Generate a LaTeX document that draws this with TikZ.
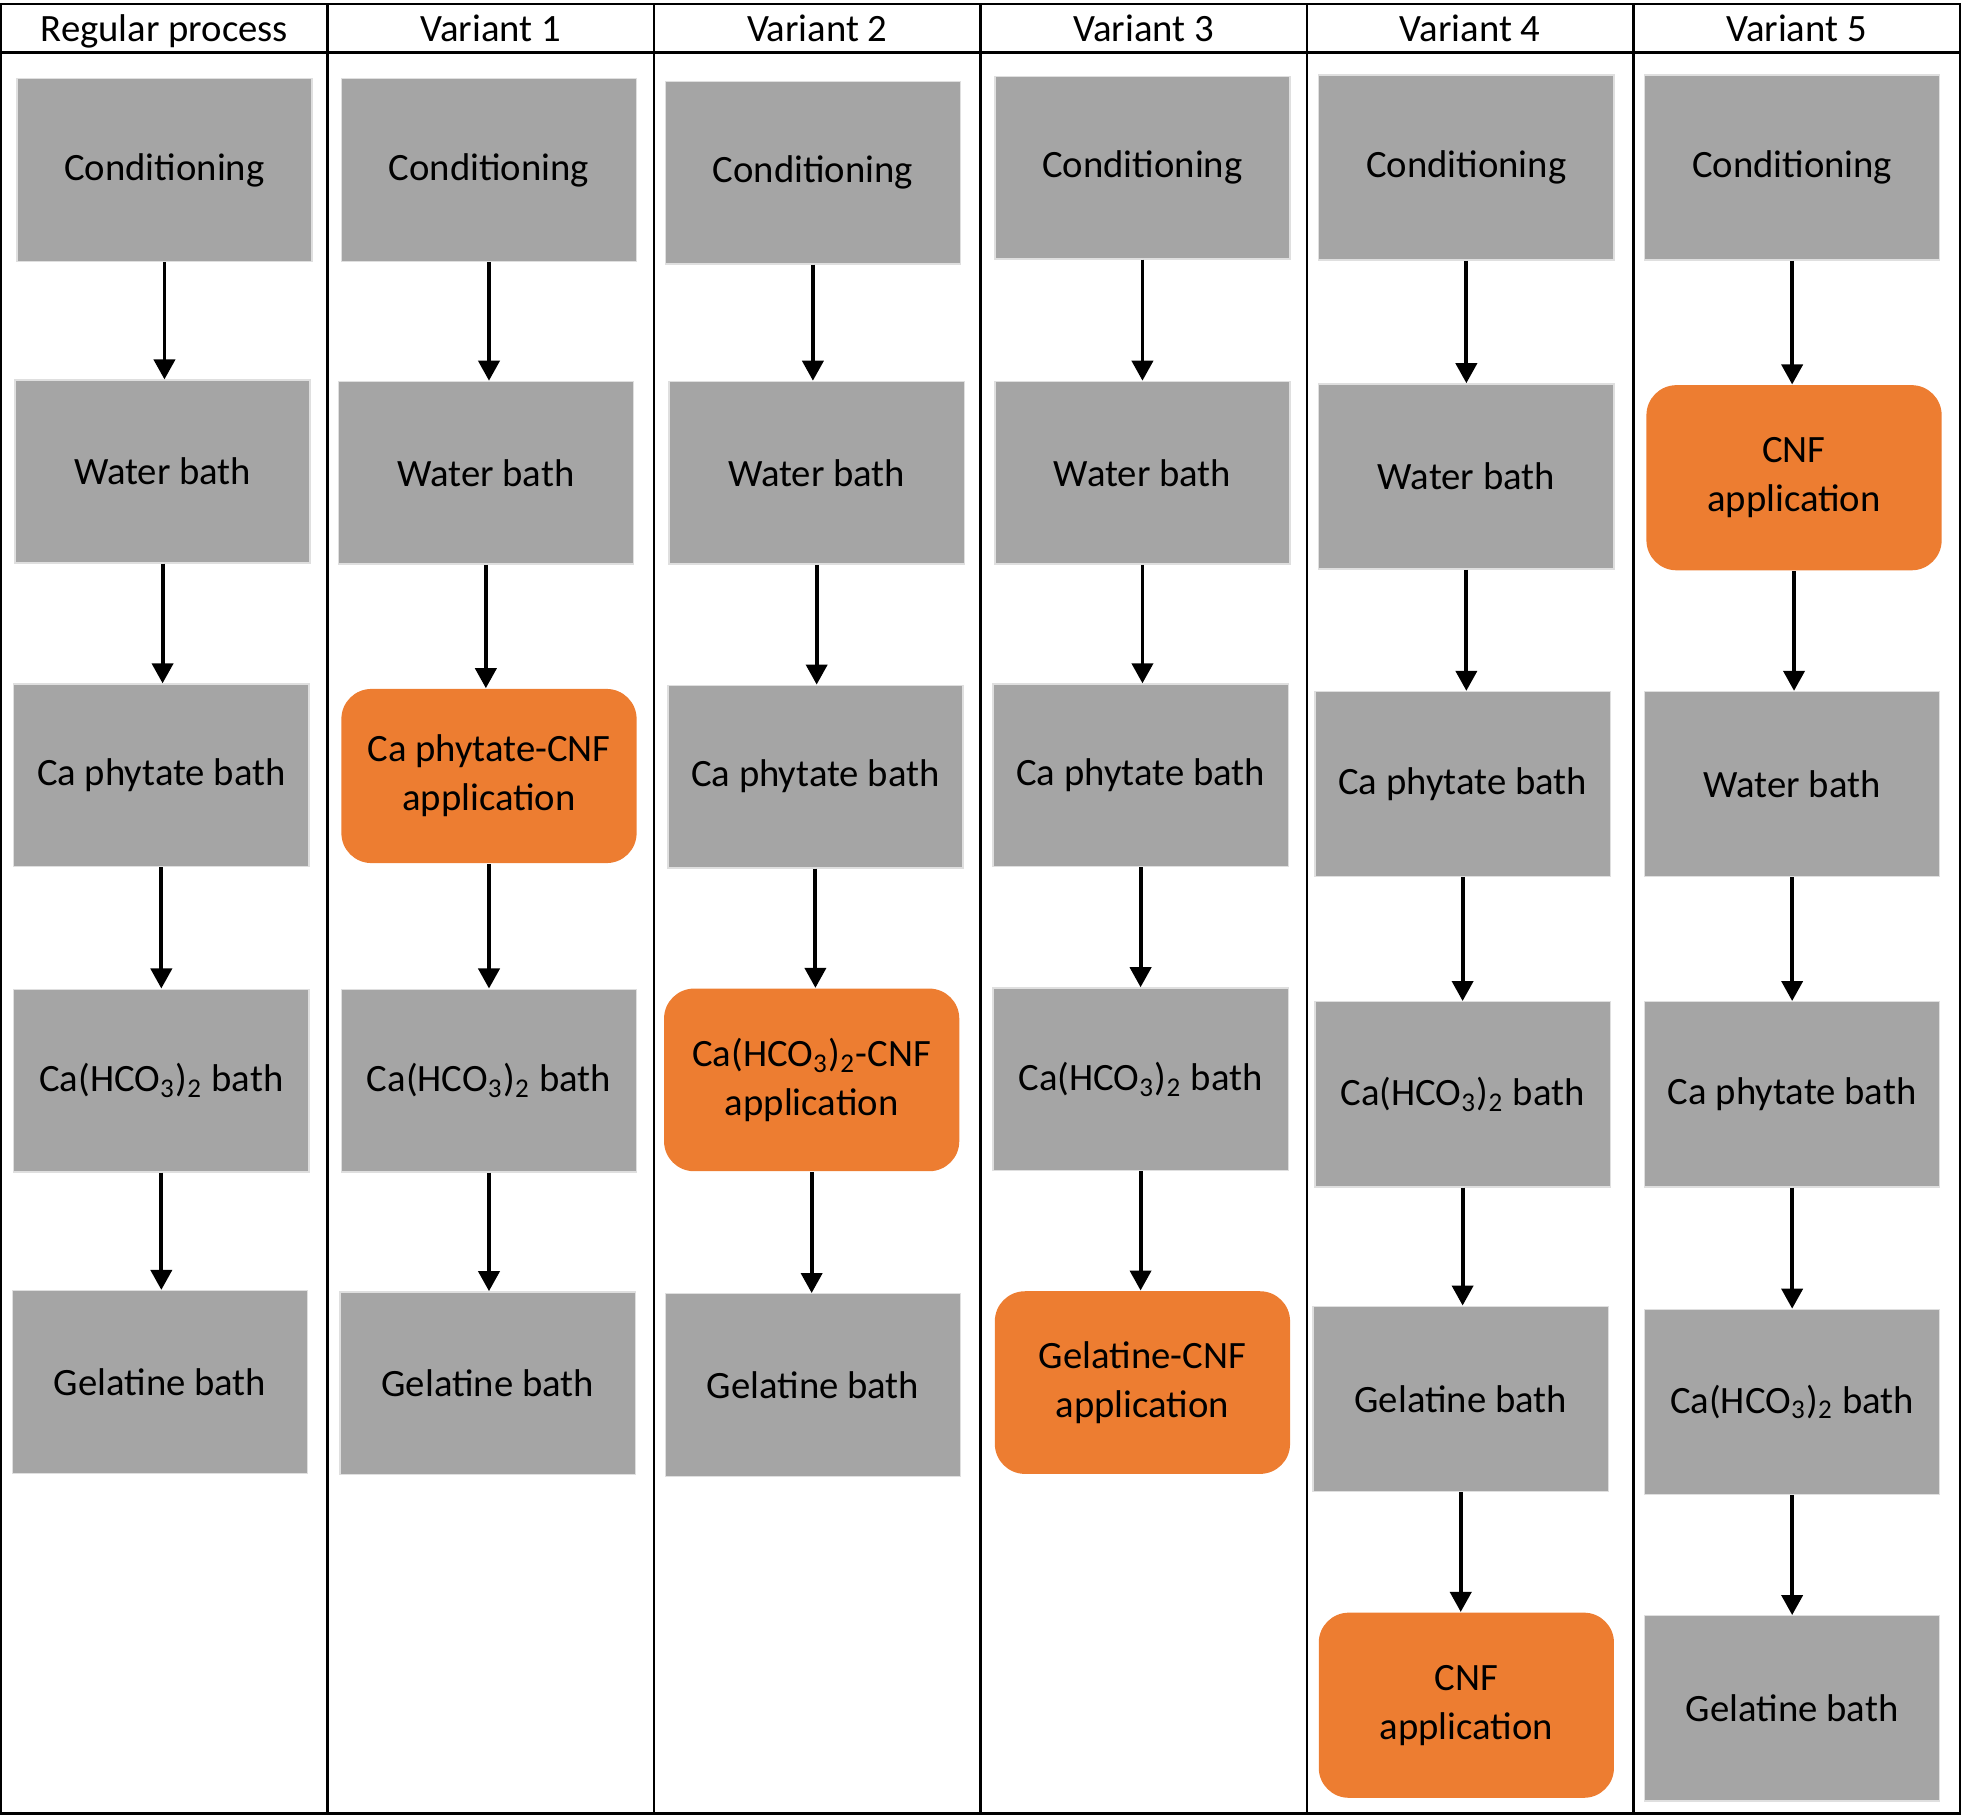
\documentclass[tikz,border=0pt]{standalone}
\usepackage{fontspec}
\setmainfont{Carlito}
\usetikzlibrary{arrows.meta}
\definecolor{stepgray}{HTML}{A5A5A5}
\definecolor{cnforange}{HTML}{ED7D31}
\tikzset{
    box/.style={rectangle, fill=stepgray, draw=gray!25, minimum width=2.95cm, minimum height=1.825cm, align=center, font=\fontsize{11}{14}\selectfont},
    tallbox/.style={box, minimum height=1.85cm},
    cnfbox/.style={box, fill=cnforange, draw=none, rounded corners=0.3cm},
    arrow/.style={-{Triangle[length=2mm, width=2.1mm]}, line width=1.1pt},
    head/.style={anchor=base, font=\fontsize{11}{14}\selectfont},
    grid/.style={line width=0.7pt},
}
\newcommand{\cahco}{Ca(HCO\textsubscript{3})\textsubscript{2}}

\begin{document}
\begin{tikzpicture}[x=0.0125cm, y=-0.0125cm]
    \useasboundingbox (0,0) rectangle (1568,1452);

    % Table
    \draw[grid] (1,3) rectangle (1567,1450);
    \draw[grid] (1,42) -- (1567,42);
    \foreach \x in {262,523,784,1045,1306}
        \draw[grid] (\x,3) -- (\x,1450);

    % Headers
    \node[head] (h0) at (131.5,33) {Regular process};
    \node[head] (h1) at (392.5,33) {Variant 1};
    \node[head] (h2) at (653.5,33) {Variant 2};
    \node[head] (h3) at (914.5,33) {Variant 3};
    \node[head] (h4) at (1175.5,33) {Variant 4};
    \node[head] (h5) at (1436.5,33) {Variant 5};

    % Regular process
    \node[box] (r1) at (131.5,136) {Conditioning};
    \node[box] (r2) at (130,377) {Water bath};
    \node[box] (r3) at (129,620) {Ca phytate bath};
    \node[box] (r4) at (129,864) {\cahco{} bath};
    \node[box] (r5) at (128,1105) {Gelatine bath};

    % Variant 1
    \node[box] (a1) at (391,136) {Conditioning};
    \node[box] (a2) at (388.5,378) {Water bath};
    \node[cnfbox, minimum height=1.74cm] (a3) at (391,620.5) {Ca phytate-CNF\\application};
    \node[box] (a4) at (391,864) {\cahco{} bath};
    \node[box] (a5) at (390,1106) {Gelatine bath};

    % Variant 2
    \node[box] (b1) at (650,138) {Conditioning};
    \node[box] (b2) at (653,378) {Water bath};
    \node[box] (b3) at (652,621) {Ca phytate bath};
    \node[cnfbox] (b4) at (649,863.5) {\cahco{}-CNF\\application};
    \node[box] (b5) at (650,1107.5) {Gelatine bath};

    % Variant 3
    \node[box] (c1) at (913.5,134) {Conditioning};
    \node[box] (c2) at (913.5,378) {Water bath};
    \node[box] (c3) at (912,620) {Ca phytate bath};
    \node[box] (c4) at (912,863) {\cahco{} bath};
    \node[cnfbox] (c5) at (913.5,1105.5) {Gelatine-CNF\\application};

    % Variant 4
    \node[tallbox] (d1) at (1172.5,134) {Conditioning};
    \node[tallbox] (d2) at (1172.5,381) {Water bath};
    \node[tallbox] (d3) at (1169.5,627) {Ca phytate bath};
    \node[tallbox] (d4) at (1169.5,875) {\cahco{} bath};
    \node[tallbox] (d5) at (1168,1118.5) {Gelatine bath};
    \node[cnfbox, minimum height=1.85cm] (d6) at (1172.5,1363.5) {CNF\\application};

    % Variant 5
    \node[tallbox] (e1) at (1433,134) {Conditioning};
    \node[cnfbox, minimum height=1.85cm] (e2) at (1434.5,382) {CNF\\application};
    \node[tallbox] (e3) at (1433,627) {Water bath};
    \node[tallbox] (e4) at (1433,875) {Ca phytate bath};
    \node[tallbox] (e5) at (1433,1121) {\cahco{} bath};
    \node[tallbox] (e6) at (1433,1366) {Gelatine bath};

    % Arrows
    \foreach \p/\n in {r1/r2,r2/r3,r3/r4,r4/r5,
                       a1/a2,a2/a3,a3/a4,a4/a5,
                       b1/b2,b2/b3,b3/b4,b4/b5,
                       c1/c2,c2/c3,c3/c4,c4/c5,
                       d1/d2,d2/d3,d3/d4,d4/d5,d5/d6,
                       e1/e2,e2/e3,e3/e4,e4/e5,e5/e6}
        \draw[arrow] (\p) -- (\p |- \n.north);
\end{tikzpicture}
\end{document}
